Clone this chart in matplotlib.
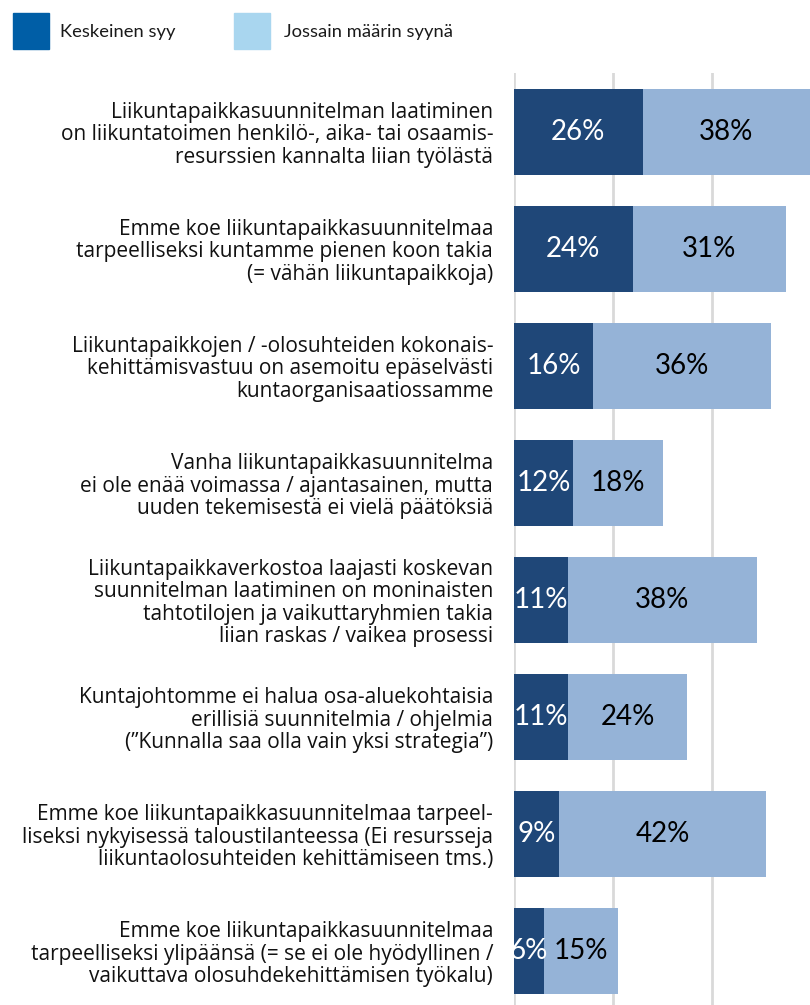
import matplotlib
matplotlib.use("Agg")
import matplotlib.pyplot as plt
from matplotlib.patches import Rectangle

categories = [
    "Liikuntapaikkasuunnitelman laatiminen\non liikuntatoimen henkilö-, aika- tai osaamis-\nresurssien kannalta liian työlästä",
    "Emme koe liikuntapaikkasuunnitelmaa\ntarpeelliseksi kuntamme pienen koon takia\n(= vähän liikuntapaikkoja)",
    "Liikuntapaikkojen / -olosuhteiden kokonais-\nkehittämisvastuu on asemoitu epäselvästi\nkuntaorganisaatiossamme",
    "Vanha liikuntapaikkasuunnitelma\nei ole enää voimassa / ajantasainen, mutta\nuuden tekemisestä ei vielä päätöksiä",
    "Liikuntapaikkaverkostoa laajasti koskevan\nsuunnitelman laatiminen on moninaisten\ntahtotilojen ja vaikuttaryhmien takia\nliian raskas / vaikea prosessi",
    "Kuntajohtomme ei halua osa-aluekohtaisia\nerillisiä suunnitelmia / ohjelmia\n(”Kunnalla saa olla vain yksi strategia”)",
    "Emme koe liikuntapaikkasuunnitelmaa tarpeel-\nliseksi nykyisessä taloustilanteessa (Ei resursseja\nliikuntaolosuhteiden kehittämiseen tms.)",
    "Emme koe liikuntapaikkasuunnitelmaa\ntarpeelliseksi ylipäänsä (= se ei ole hyödyllinen /\nvaikuttava olosuhdekehittämisen työkalu)",
]
keskeinen = [26, 24, 16, 12, 11, 11, 9, 6]
jossain = [38, 31, 36, 18, 38, 24, 42, 15]
series_names = ["Keskeinen syy", "Jossain määrin syynä"]
xticks = [0, 20, 40]

W, H = 810, 1005
fig = plt.figure(figsize=(W / 100, H / 100), dpi=100)

px = 4.95  # pixels per percent
left, top = 514, 73
ax = fig.add_axes([left / W, 0, 1 - left / W, 1 - top / H])
ypos = list(range(len(categories)))

dark_bar = "#1F4778"
light_bar = "#95B3D7"
h = 0.735
b1 = ax.barh(ypos, keskeinen, height=h, color=dark_bar, zorder=3)
b2 = ax.barh(ypos, jossain, left=keskeinen, height=h, color=light_bar, zorder=3)

lab_font = dict(family="Lato", fontsize=20)
t1 = ax.bar_label(b1, labels=[f"{v}%" for v in keskeinen], label_type="center",
                  color="white", **lab_font)
t2 = ax.bar_label(b2, labels=[f"{v}%" for v in jossain], label_type="center",
                  color="black", **lab_font)
for t in list(t1) + list(t2):
    t.set_clip_on(True)
    t.set_zorder(4)

ax.set_xticks(xticks)
ax.set_xticklabels([])
ax.set_xlim(0, (W - left) / px)
bottom_val = (1005 - 132) / 117
ax.set_ylim(bottom_val, -0.5)
ax.grid(axis="x", color="#D9D9D9", linewidth=2, zorder=0)
ax.set_axisbelow(True)
for s in ax.spines.values():
    s.set_visible(False)
ax.set_yticks(ypos)
ax.set_yticklabels(categories, family="Open Sans", fontsize=15.0, linespacing=1.1,
                   color="#111111")
ax.tick_params(axis="y", length=0, pad=15)
ax.tick_params(axis="x", length=0)

# legend
leg_colors = ["#005EA6", "#A9D6EF"]
sq_x = [13, 234]
txt_x = [60, 284]
for c, sx, tx, name in zip(leg_colors, sq_x, txt_x, series_names):
    fig.add_artist(Rectangle((sx / W, 1 - 49 / H), 36 / W, 36 / H,
                             transform=fig.transFigure, color=c))
    fig.text(tx / W, 1 - 32 / H, name, family="Lato",
             fontsize=13.2, va="center", ha="left", color="#1a1a1a")

fig.savefig("out.png", dpi=100)
